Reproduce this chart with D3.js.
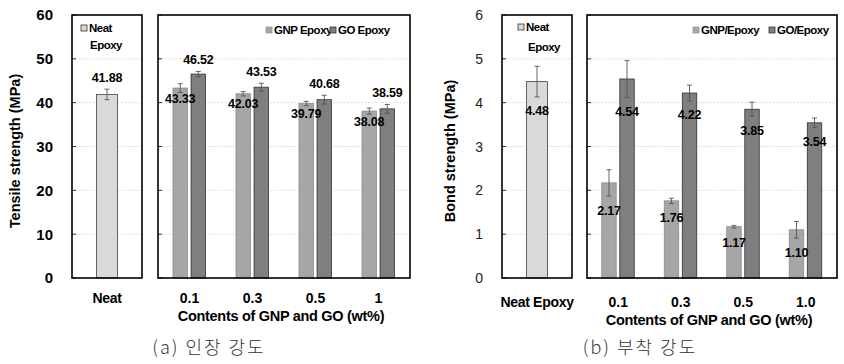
<!DOCTYPE html>
<html>
<head>
<meta charset="utf-8">
<script src="https://cdn.jsdelivr.net/npm/d3@7"></script>
<style>
  body { margin: 0; background: #fff; }
  svg { display: block; }
  text { font-family: "Liberation Sans", Arial, sans-serif; fill: #000; }
</style>
</head>
<body>
<svg id="chart" width="844" height="364"></svg>
<script>
// data
var contents = ["0.1", "0.3", "0.5", "1"];
var contentsBond = ["0.1", "0.3", "0.5", "1.0"];
var series = ["GNP", "GO"];

var tensileNeat = [41.88];
var tensileNeatErr = [1.2];
var tensileGNP = [43.33, 42.03, 39.79, 38.08];
var tensileGNPErr = [1.0, 0.5, 0.5, 0.7];
var tensileGO = [46.52, 43.53, 40.68, 38.59];
var tensileGOErr = [0.6, 0.9, 1.0, 1.0];
var tensileTicks = [0, 10, 20, 30, 40, 50, 60];

var bondNeat = [4.48];
var bondNeatErr = [0.35];
var bondGNP = [2.17, 1.76, 1.17, 1.10];
var bondGNPErr = [0.3, 0.06, 0.03, 0.19];
var bondGO = [4.54, 4.22, 3.85, 3.54];
var bondGOErr = [0.42, 0.18, 0.16, 0.11];
var bondTicks = [0, 1, 2, 3, 4, 5, 6];

var colors = {Neat: "#d9d9d9", GNP: "#a6a6a6", GO: "#7f7f7f"};

var svg = d3.select("#chart");

function drawChart(o) {
  "use strict";
  var yTop = 15, yBot = 278;
  var y = d3.scaleLinear().domain([0, d3.max(o.ticks)]).range([yBot, yTop]);

  var g = svg.append("g");

  // y axis title
  g.append("text")
    .attr("transform", "translate(" + o.titleX + "," + 151 + ") rotate(-90)")
    .attr("text-anchor", "middle")
    .style("font-size", "14.5px").style("font-weight", "bold")
    .text(o.yTitle);

  // y tick labels
  g.selectAll(".ytick").data(o.ticks).enter().append("text")
    .attr("x", o.neatX[0] - 19)
    .attr("y", function(d) { return y(d); })
    .attr("dy", "0.36em")
    .attr("text-anchor", "end")
    .style("font-size", o.tickBold ? "15px" : "14px")
    .style("font-weight", o.tickBold ? "bold" : "normal")
    .style("fill", o.tickBold ? "#000" : "#222")
    .text(function(d) { return d; });

  var panels = [o.neatX, o.mainX];
  panels.forEach(function(p) {
    // grid lines
    g.selectAll(null).data(o.ticks.slice(1, -1)).enter().append("line")
      .attr("x1", p[0]).attr("x2", p[1])
      .attr("y1", function(d) { return y(d); })
      .attr("y2", function(d) { return y(d); })
      .style("stroke", "#d4d4d4").style("stroke-width", 0.8)
      .style("stroke-dasharray", "2,1.5");
    // small inward ticks
    g.selectAll(null).data(o.ticks).enter().append("line")
      .attr("x1", p[0]).attr("x2", p[0] + 4)
      .attr("y1", function(d) { return y(d); })
      .attr("y2", function(d) { return y(d); })
      .style("stroke", "#000").style("stroke-width", 0.8);
  });

  // neat bar
  var xNeat = d3.scaleBand().domain(["Neat"]).range(o.neatX).padding(0.538);
  var neatData = o.neat.map(function(v, i) { return {v: v, e: o.neatErr[i]}; });

  g.selectAll(".neat").data(neatData).enter().append("rect")
    .attr("x", xNeat("Neat"))
    .attr("width", xNeat.bandwidth())
    .attr("y", function(d) { return y(d.v); })
    .attr("height", function(d) { return yBot - y(d.v); })
    .style("fill", colors.Neat).style("stroke", "#404040").style("stroke-width", 0.8);

  // grouped bars
  var x0 = d3.scaleBand().domain(o.cats).range(o.mainX);
  var x1 = d3.scaleBand().domain(series).range([-16.5, 16]).paddingInner(0.2);

  var barData = [];
  o.cats.forEach(function(c, i) {
    barData.push({c: c, s: "GNP", v: o.gnp[i], e: o.gnpErr[i]});
    barData.push({c: c, s: "GO", v: o.go[i], e: o.goErr[i]});
  });
  function cx(d) { return x0(d.c) + x0.bandwidth() / 2 + x1(d.s); }

  g.selectAll(".bar").data(barData).enter().append("rect")
    .attr("x", cx)
    .attr("width", x1.bandwidth())
    .attr("y", function(d) { return y(d.v); })
    .attr("height", function(d) { return yBot - y(d.v); })
    .style("fill", function(d) { return colors[d.s]; })
    .style("stroke", function(d) { return d.s == "GO" ? "#303030" : "#8a8a8a"; })
    .style("stroke-width", 0.8);

  // error bars
  var errs = neatData.map(function(d) {
    return {x: xNeat("Neat") + xNeat.bandwidth() / 2, v: d.v, e: d.e};
  }).concat(barData.map(function(d) {
    return {x: cx(d) + x1.bandwidth() / 2, v: d.v, e: d.e};
  }));
  var eg = g.selectAll(".err").data(errs).enter().append("g")
    .style("stroke", "#555").style("stroke-width", 0.9);
  eg.append("line")
    .attr("x1", function(d) { return d.x; }).attr("x2", function(d) { return d.x; })
    .attr("y1", function(d) { return y(d.v + d.e); })
    .attr("y2", function(d) { return y(d.v - d.e); });
  [1, -1].forEach(function(s) {
    eg.append("line")
      .attr("x1", function(d) { return d.x - 2.5; }).attr("x2", function(d) { return d.x + 2.5; })
      .attr("y1", function(d) { return y(d.v + s * d.e); })
      .attr("y2", function(d) { return y(d.v + s * d.e); });
  });

  // value labels
  var labels = errs.map(function(d, i) {
    var s = i == 0 ? "Neat" : barData[i - 1].s;
    return {x: d.x, v: d.v, e: d.e, s: s};
  });
  g.selectAll(".val").data(labels).enter().append("text")
    .attr("x", function(d) { return d.x; })
    .attr("y", function(d) { return o.labelY(d, y); })
    .attr("dy", "0.36em")
    .attr("text-anchor", "middle")
    .style("font-size", "12.5px").style("font-weight", "bold")
    .style("letter-spacing", "-0.2px")
    .text(function(d) { return d.v.toFixed(2); });

  // panel frames
  panels.forEach(function(p) {
    g.append("rect")
      .attr("x", p[0]).attr("y", yTop)
      .attr("width", p[1] - p[0]).attr("height", yBot - yTop)
      .style("fill", "none").style("stroke", "#000").style("stroke-width", 1.6);
  });

  // x tick labels
  g.append("text")
    .attr("x", xNeat("Neat") + xNeat.bandwidth() / 2).attr("y", o.tickY)
    .attr("text-anchor", "middle")
    .style("font-size", "14px").style("font-weight", "bold")
    .style("letter-spacing", "-0.3px")
    .text(o.neatLabel);
  g.selectAll(".xt").data(o.cats).enter().append("text")
    .attr("x", function(d) { return x0(d) + x0.bandwidth() / 2; })
    .attr("y", o.tickY)
    .attr("text-anchor", "middle")
    .style("font-size", "14px").style("font-weight", "bold")
    .text(function(d) { return d; });

  g.append("text")
    .attr("x", (o.mainX[0] + o.mainX[1]) / 2 - 3).attr("y", o.tickY + 18)
    .attr("text-anchor", "middle")
    .style("font-size", "14.5px").style("font-weight", "bold")
    .style("letter-spacing", "-0.3px")
    .text("Contents of GNP and GO (wt%)");

  // caption
  g.append("text")
    .attr("x", o.capX).attr("y", 354)
    .attr("text-anchor", "middle")
    .style("font-family", "'Noto Sans CJK KR', sans-serif")
    .style("font-size", "18px").style("font-weight", 300)
    .style("fill", "#333").style("letter-spacing", "2px")
    .text(o.caption);

  // legends
  var lg = g.append("g").style("font-size", "11.5px").style("font-weight", "bold");
  lg.append("rect").attr("x", o.neatLeg[0]).attr("y", o.neatLeg[1] - 7)
    .attr("width", 6).attr("height", 6)
    .style("fill", colors.Neat).style("stroke", "#333").style("stroke-width", 0.8);
  lg.append("text").attr("x", o.neatLeg[0] + 8).attr("y", o.neatLeg[1])
    .style("letter-spacing", "-0.5px").text("Neat");
  lg.append("text").attr("x", o.neatLeg[0] + o.neatLeg[2]).attr("y", o.neatLeg[1] + o.neatLeg[3])
    .style("letter-spacing", "-0.5px").text("Epoxy");

  series.forEach(function(s, i) {
    var lx = o.legX[i];
    lg.append("rect").attr("x", lx).attr("y", 27)
      .attr("width", 6).attr("height", 6)
      .style("fill", colors[s]).style("stroke", s == "GO" ? "#333" : "#999").style("stroke-width", 0.8);
    lg.append("text").attr("x", lx + 8).attr("y", 34)
      .style("letter-spacing", "-0.5px").text(o.legNames[i]);
  });
}

drawChart({
  ticks: tensileTicks, tickBold: true,
  yTitle: "Tensile strength (MPa)", titleX: 20,
  neatX: [72, 142], mainX: [158, 410],
  neat: tensileNeat, neatErr: tensileNeatErr,
  cats: contents, gnp: tensileGNP, gnpErr: tensileGNPErr, go: tensileGO, goErr: tensileGOErr,
  labelY: function(d, y) {
    if (d.s == "GNP") return y(d.v) + 10;
    return y(d.v + d.e) - 12;
  },
  neatLabel: "Neat", tickY: 303,
  caption: "(a) 인장 강도", capX: 209,
  neatLeg: [81, 32, 9, 17],
  legX: [266, 330], legNames: ["GNP Epoxy", "GO Epoxy"]
});

drawChart({
  ticks: bondTicks, tickBold: false,
  yTitle: "Bond strength (MPa)", titleX: 455,
  neatX: [502, 572], mainX: [587, 837],
  neat: bondNeat, neatErr: bondNeatErr,
  cats: contentsBond, gnp: bondGNP, gnpErr: bondGNPErr, go: bondGO, goErr: bondGOErr,
  labelY: function(d, y) { return y(d.v - d.e) + 14; },
  neatLabel: "Neat Epoxy", tickY: 307,
  caption: "(b) 부착 강도", capX: 640,
  neatLeg: [518, 31, 10, 20],
  legX: [693, 769], legNames: ["GNP/Epoxy", "GO/Epoxy"]
});
</script>
</body>
</html>
